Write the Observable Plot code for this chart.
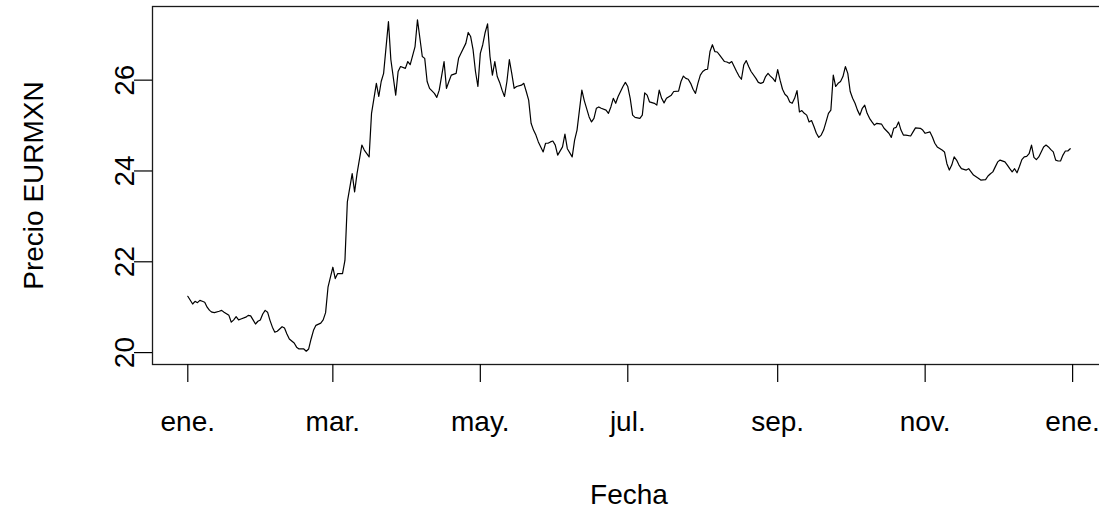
<!DOCTYPE html>
<html><head><meta charset="utf-8">
<script src="https://cdn.jsdelivr.net/npm/d3@7"></script>
<script src="https://cdn.jsdelivr.net/npm/@observablehq/plot@0.6"></script>
<style>html,body{margin:0;padding:0;background:#fff;overflow:hidden}</style>
</head><body><div id="chart"></div>
<script>
const dates = [
"2020-01-01","2020-01-03","2020-01-04","2020-01-05","2020-01-06","2020-01-07","2020-01-08","2020-01-09","2020-01-10","2020-01-11","2020-01-12","2020-01-14","2020-01-15","2020-01-16","2020-01-18","2020-01-19","2020-01-20","2020-01-21","2020-01-22","2020-01-23","2020-01-25","2020-01-26","2020-01-27","2020-01-28","2020-01-29","2020-01-30","2020-01-31",
"2020-02-01","2020-02-02","2020-02-03","2020-02-04","2020-02-05","2020-02-06","2020-02-07","2020-02-08","2020-02-09","2020-02-10","2020-02-11","2020-02-12","2020-02-14","2020-02-15","2020-02-16","2020-02-18","2020-02-19","2020-02-20","2020-02-21","2020-02-22","2020-02-23","2020-02-25","2020-02-26","2020-02-27","2020-02-28","2020-02-29",
"2020-03-01","2020-03-02","2020-03-03","2020-03-05","2020-03-06","2020-03-07","2020-03-09","2020-03-10","2020-03-11","2020-03-13","2020-03-14","2020-03-16","2020-03-17","2020-03-18","2020-03-19","2020-03-20","2020-03-21","2020-03-22","2020-03-24","2020-03-25","2020-03-27","2020-03-28","2020-03-29","2020-03-31",
"2020-04-01","2020-04-02","2020-04-04","2020-04-05","2020-04-07","2020-04-08","2020-04-09","2020-04-10","2020-04-12","2020-04-13","2020-04-14","2020-04-16","2020-04-17","2020-04-18","2020-04-19","2020-04-21","2020-04-22","2020-04-23","2020-04-25","2020-04-26","2020-04-27","2020-04-28","2020-04-29","2020-04-30",
"2020-05-01","2020-05-02","2020-05-03","2020-05-04","2020-05-05","2020-05-06","2020-05-07","2020-05-08","2020-05-09","2020-05-10","2020-05-11","2020-05-12","2020-05-13","2020-05-14","2020-05-15","2020-05-16","2020-05-18","2020-05-19","2020-05-20","2020-05-21","2020-05-22","2020-05-23","2020-05-24","2020-05-25","2020-05-27","2020-05-28","2020-05-29","2020-05-30","2020-05-31",
"2020-06-01","2020-06-02","2020-06-04","2020-06-05","2020-06-06","2020-06-08","2020-06-09","2020-06-10","2020-06-11","2020-06-12","2020-06-13","2020-06-15","2020-06-16","2020-06-17","2020-06-18","2020-06-19","2020-06-20","2020-06-22","2020-06-23","2020-06-24","2020-06-25","2020-06-26","2020-06-27","2020-06-28","2020-06-29","2020-06-30",
"2020-07-01","2020-07-02","2020-07-03","2020-07-04","2020-07-06","2020-07-07","2020-07-08","2020-07-09","2020-07-10","2020-07-12","2020-07-13","2020-07-14","2020-07-15","2020-07-16","2020-07-17","2020-07-19","2020-07-20","2020-07-22","2020-07-23","2020-07-24","2020-07-25","2020-07-26","2020-07-27","2020-07-28","2020-07-29","2020-07-30","2020-07-31",
"2020-08-01","2020-08-02","2020-08-03","2020-08-04","2020-08-05","2020-08-06","2020-08-07","2020-08-08","2020-08-09","2020-08-10","2020-08-11","2020-08-12","2020-08-13","2020-08-14","2020-08-15","2020-08-16","2020-08-17","2020-08-18","2020-08-19","2020-08-20","2020-08-21","2020-08-23","2020-08-24","2020-08-25","2020-08-26","2020-08-27","2020-08-28","2020-08-29","2020-08-30","2020-08-31",
"2020-09-01","2020-09-02","2020-09-03","2020-09-04","2020-09-05","2020-09-06","2020-09-07","2020-09-08","2020-09-09","2020-09-10","2020-09-11","2020-09-12","2020-09-13","2020-09-14","2020-09-15","2020-09-16","2020-09-17","2020-09-18","2020-09-19","2020-09-20","2020-09-21","2020-09-22","2020-09-23","2020-09-24","2020-09-25","2020-09-26","2020-09-27","2020-09-28","2020-09-29","2020-09-30",
"2020-10-01","2020-10-02","2020-10-03","2020-10-04","2020-10-05","2020-10-06","2020-10-07","2020-10-08","2020-10-09","2020-10-10","2020-10-11","2020-10-12","2020-10-14","2020-10-15","2020-10-17","2020-10-18","2020-10-19","2020-10-20","2020-10-21","2020-10-22","2020-10-23","2020-10-24","2020-10-26","2020-10-27","2020-10-28","2020-10-30","2020-10-31",
"2020-11-01","2020-11-03","2020-11-04","2020-11-05","2020-11-06","2020-11-08","2020-11-09","2020-11-10","2020-11-11","2020-11-12","2020-11-13","2020-11-14","2020-11-15","2020-11-16","2020-11-18","2020-11-19","2020-11-20","2020-11-21","2020-11-23","2020-11-24","2020-11-26","2020-11-27","2020-11-28","2020-11-29","2020-11-30",
"2020-12-01","2020-12-02","2020-12-04","2020-12-05","2020-12-06","2020-12-07","2020-12-08","2020-12-09","2020-12-10","2020-12-11","2020-12-12","2020-12-13","2020-12-14","2020-12-15","2020-12-16","2020-12-17","2020-12-18","2020-12-19","2020-12-20","2020-12-21","2020-12-22","2020-12-23","2020-12-24","2020-12-25","2020-12-26","2020-12-27","2020-12-28","2020-12-29","2020-12-30","2020-12-31"
];
const prices = [
21.24,21.07,21.13,21.10,21.15,21.13,21.11,21.00,20.93,20.89,20.88,20.91,20.93,20.89,20.82,20.67,20.72,20.79,20.72,20.74,20.78,20.82,20.81,20.72,20.63,20.69,20.72,
20.85,20.93,20.89,20.71,20.56,20.45,20.47,20.52,20.57,20.54,20.41,20.30,20.21,20.12,20.08,20.08,20.03,20.08,20.30,20.49,20.60,20.65,20.72,20.88,21.44,21.66,
21.88,21.63,21.74,21.74,22.03,23.32,23.94,23.54,23.94,24.57,24.46,24.31,25.27,25.60,25.93,25.64,25.97,26.15,27.29,26.45,25.67,26.19,26.30,26.26,
26.41,26.34,26.74,27.33,26.52,26.48,25.97,25.82,25.71,25.62,25.78,26.41,25.82,25.97,26.11,26.15,26.48,26.59,26.81,27.05,26.96,26.67,26.19,25.86,
26.59,26.78,27.05,27.24,26.52,26.11,26.41,26.08,25.95,25.78,25.64,25.97,26.45,26.15,25.82,25.86,25.89,25.93,25.75,25.56,25.05,24.90,24.79,24.64,24.42,24.61,24.61,24.64,24.66,
24.57,24.35,24.53,24.81,24.49,24.31,24.68,24.90,25.34,25.78,25.55,25.19,25.08,25.16,25.38,25.41,25.38,25.34,25.27,25.41,25.60,25.49,25.64,25.75,25.86,25.95,
25.86,25.60,25.23,25.18,25.16,25.23,25.72,25.67,25.52,25.49,25.45,25.78,25.60,25.50,25.60,25.67,25.75,25.76,25.97,26.09,26.04,26.02,25.93,25.80,25.71,25.93,26.11,
26.19,26.23,26.24,26.63,26.78,26.63,26.62,26.55,26.48,26.41,26.40,26.37,26.41,26.30,26.19,26.09,26.02,26.34,26.43,26.30,26.19,26.04,25.95,25.93,25.95,26.08,26.15,26.09,26.04,25.97,
26.23,26.00,25.80,25.69,25.64,25.52,25.49,25.60,25.77,25.30,25.33,25.27,25.23,25.08,25.11,24.98,24.83,24.74,24.79,24.90,25.08,25.27,25.34,26.11,25.86,25.93,25.97,26.08,26.30,26.15,
25.75,25.60,25.49,25.34,25.23,25.38,25.45,25.27,25.16,25.08,25.01,25.05,25.03,24.94,24.83,24.74,24.94,24.96,25.08,24.90,24.79,24.79,24.77,24.86,24.95,24.94,24.90,
24.83,24.86,24.75,24.61,24.53,24.46,24.42,24.16,24.02,24.13,24.31,24.24,24.13,24.05,24.02,24.05,23.98,23.91,23.84,23.80,23.81,23.89,23.94,23.98,24.09,
24.20,24.24,24.20,24.13,24.05,23.98,24.05,23.96,24.10,24.25,24.31,24.32,24.38,24.57,24.30,24.25,24.31,24.42,24.53,24.57,24.53,24.47,24.42,24.24,24.22,24.22,24.35,24.44,24.44,24.49
];
const tickDates = ["2020-01-01","2020-03-01","2020-05-01","2020-07-01","2020-09-01","2020-11-01","2021-01-01"];
const tickLabels = ["ene.","mar.","may.","jul.","sep.","nov.","ene."];
const yTicks = [20, 22, 24, 26];
const xTitle = "Fecha";
const yTitle = "Precio EURMXN";

const data = dates.map((d, i) => ({date: new Date(d + "T00:00:00Z"), price: prices[i]}));
// R-style axis extent: data range padded by 4% on each side
const [xa, xb] = d3.extent(data, d => d.date);
const xp = (xb - xa) * 0.04;
const [ya, yb] = d3.extent(data, d => d.price);
const yp = (yb - ya) * 0.04;
const xTickData = tickDates.map((d, i) => ({date: new Date(d + "T00:00:00Z"), label: tickLabels[i]}));
const fs = 28;

const chart = Plot.plot({
  width: 1099,
  height: 509,
  marginLeft: 152,
  marginRight: -6,
  marginTop: 6,
  marginBottom: 145,
  style: {fontFamily: "'Liberation Sans', Arial, sans-serif", fontSize: fs + "px", background: "#fff", color: "#000", overflow: "hidden"},
  x: {type: "utc", domain: [new Date(+xa - xp), new Date(+xb + xp)], label: null, axis: null},
  y: {domain: [ya - yp, yb + yp], label: null, axis: null},
  marks: [
    Plot.frame({stroke: "#1a1a1a", strokeWidth: 1.3}),
    Plot.line(data, {x: "date", y: "price", stroke: "#000", strokeWidth: 1.2}),
    Plot.axisX({ticks: xTickData.map(d => d.date), tickSize: 18, tickFormat: () => "", stroke: "#000", strokeWidth: 1.2}),
    Plot.axisY({ticks: yTicks, tickSize: 18, tickFormat: () => "", stroke: "#000", strokeWidth: 1.2}),
    Plot.text(xTickData, {x: "date", text: "label", frameAnchor: "bottom", dy: 66, lineAnchor: "bottom", fontSize: fs, fill: "#000"}),
    Plot.text(yTicks, {y: d => d, text: d => String(d), frameAnchor: "left", dx: -19, rotate: -90, textAnchor: "middle", lineAnchor: "bottom", fontSize: fs, fill: "#000"}),
    Plot.text([xTitle], {frameAnchor: "bottom", dy: 139, textAnchor: "middle", lineAnchor: "bottom", fontSize: fs, fill: "#000"}),
    Plot.text([yTitle], {frameAnchor: "left", dx: -110, rotate: -90, textAnchor: "middle", lineAnchor: "bottom", fontSize: fs, fill: "#000"})
  ]
});
document.getElementById("chart").appendChild(chart);
</script>
</body></html>
